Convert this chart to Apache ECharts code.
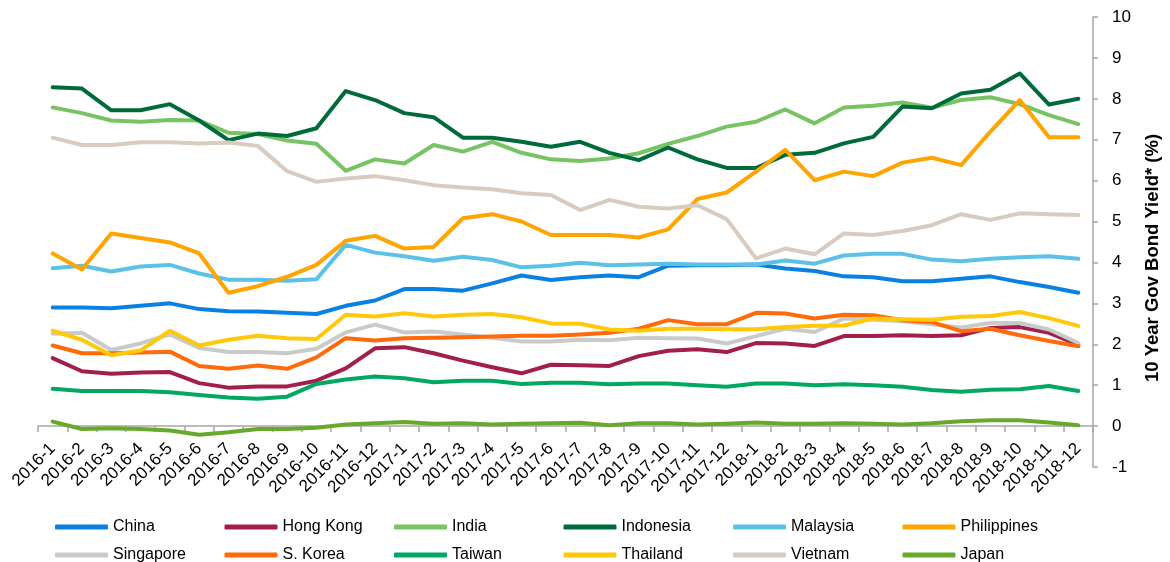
<!DOCTYPE html>
<html>
<head>
<meta charset="utf-8">
<title>10 Year Government Bond Yields, Asia</title>
<script src="https://cdn.jsdelivr.net/npm/echarts@6/dist/echarts.min.js"></script>
<style>
  html, body { margin: 0; padding: 0; background: #ffffff; }
  #chart { width: 1170px; height: 562px; }
</style>
</head>
<body>
<div id="chart"></div>
<script>
// Monthly categories, Jan 2016 – Dec 2018
const months = [
  '2016-1','2016-2','2016-3','2016-4','2016-5','2016-6','2016-7','2016-8','2016-9','2016-10','2016-11','2016-12',
  '2017-1','2017-2','2017-3','2017-4','2017-5','2017-6','2017-7','2017-8','2017-9','2017-10','2017-11','2017-12',
  '2018-1','2018-2','2018-3','2018-4','2018-5','2018-6','2018-7','2018-8','2018-9','2018-10','2018-11','2018-12'
];

// 10-year government bond yields (%)
const china = [2.90,2.90,2.88,2.94,3.00,2.86,2.81,2.80,2.77,2.74,2.94,3.07,3.35,3.35,3.31,3.49,3.68,3.57,3.64,3.68,3.64,3.92,3.93,3.93,3.95,3.85,3.79,3.66,3.64,3.54,3.54,3.60,3.66,3.52,3.40,3.26];
const hongKong = [1.66,1.34,1.28,1.31,1.32,1.05,0.94,0.97,0.97,1.11,1.41,1.90,1.93,1.78,1.60,1.44,1.29,1.50,1.49,1.47,1.71,1.84,1.88,1.81,2.03,2.02,1.96,2.20,2.20,2.22,2.20,2.22,2.40,2.42,2.28,1.99];
const india = [7.79,7.65,7.47,7.44,7.48,7.47,7.17,7.14,6.98,6.90,6.24,6.52,6.42,6.87,6.71,6.95,6.68,6.52,6.48,6.54,6.67,6.90,7.09,7.32,7.44,7.74,7.40,7.79,7.83,7.91,7.78,7.97,8.04,7.87,7.60,7.38];
const indonesia = [8.28,8.25,7.72,7.72,7.87,7.47,6.99,7.15,7.09,7.28,8.19,7.97,7.65,7.55,7.05,7.05,6.95,6.83,6.95,6.68,6.50,6.81,6.52,6.31,6.31,6.63,6.68,6.91,7.07,7.81,7.77,8.13,8.22,8.62,7.86,8.00];
const malaysia = [3.86,3.92,3.78,3.90,3.94,3.73,3.58,3.58,3.55,3.59,4.43,4.24,4.15,4.04,4.14,4.06,3.88,3.92,3.99,3.93,3.95,3.97,3.95,3.95,3.95,4.05,3.97,4.17,4.21,4.21,4.07,4.03,4.09,4.13,4.15,4.09];
const philippines = [4.22,3.83,4.71,4.60,4.49,4.22,3.26,3.42,3.65,3.94,4.53,4.65,4.34,4.38,5.08,5.18,5.00,4.67,4.67,4.67,4.61,4.81,5.55,5.71,6.22,6.75,6.01,6.22,6.11,6.44,6.56,6.38,7.20,7.97,7.06,7.06];
const singapore = [2.26,2.28,1.86,2.02,2.24,1.91,1.81,1.81,1.78,1.89,2.29,2.48,2.29,2.31,2.24,2.16,2.07,2.07,2.11,2.10,2.16,2.15,2.14,2.02,2.20,2.38,2.30,2.63,2.60,2.56,2.49,2.41,2.52,2.52,2.36,2.03];
const sKorea = [1.97,1.78,1.78,1.80,1.82,1.47,1.40,1.48,1.40,1.68,2.15,2.09,2.15,2.16,2.17,2.19,2.21,2.21,2.24,2.28,2.38,2.59,2.49,2.49,2.77,2.75,2.63,2.72,2.71,2.59,2.54,2.32,2.38,2.22,2.08,1.95];
const taiwan = [0.91,0.86,0.86,0.86,0.83,0.76,0.70,0.67,0.72,1.03,1.14,1.21,1.17,1.07,1.11,1.11,1.03,1.06,1.06,1.02,1.04,1.04,1.00,0.96,1.04,1.04,1.00,1.02,1.00,0.96,0.88,0.84,0.89,0.90,0.98,0.86];
const thailand = [2.33,2.11,1.73,1.85,2.33,1.97,2.11,2.21,2.15,2.13,2.72,2.68,2.76,2.68,2.72,2.74,2.66,2.51,2.50,2.36,2.33,2.38,2.38,2.37,2.37,2.42,2.45,2.46,2.63,2.61,2.60,2.67,2.69,2.79,2.64,2.45];
const vietnam = [7.05,6.87,6.87,6.94,6.94,6.91,6.93,6.85,6.23,5.97,6.05,6.11,6.01,5.89,5.83,5.79,5.69,5.65,5.28,5.53,5.36,5.32,5.40,5.06,4.10,4.34,4.20,4.71,4.67,4.77,4.91,5.18,5.04,5.20,5.18,5.16];
const japan = [0.11,-0.07,-0.05,-0.07,-0.11,-0.21,-0.15,-0.07,-0.07,-0.04,0.04,0.07,0.10,0.06,0.07,0.04,0.06,0.07,0.08,0.02,0.07,0.07,0.04,0.06,0.09,0.06,0.06,0.07,0.06,0.04,0.07,0.12,0.14,0.14,0.09,0.02];

// Series names in legend order
const seriesNames = ['China','Hong Kong','India','Indonesia','Malaysia','Philippines','Singapore','S. Korea','Taiwan','Thailand','Vietnam','Japan'];
const seriesValues = [china, hongKong, india, indonesia, malaysia, philippines, singapore, sKorea, taiwan, thailand, vietnam, japan];
const seriesColors = ['#0a80e2','#a11f4a','#78c364','#006b3a','#5bc1e6','#ffa400','#c9cbcb','#ff6a0a','#00a862','#ffc90a','#d8cbc0','#66a92b'];

// Y-axis scale (%)
const yMin = -1, yMax = 10, yStep = 1;

// Vertical divider at Nov 2017, spanning this value range
const dividerMonth = '2017-11';
const dividerSpan = [10.15, 0.15];

const FONT = '"Liberation Sans", Arial, Helvetica, sans-serif';

// Plot box
const GRID = { left: 38, right: 72, top: 17, bottom: 95 };
// Month labels sit just under the zero line, which is one y-unit above the plot bottom
const plotHeight = 562 - GRID.top - GRID.bottom;
const zeroLift = plotHeight * (0 - yMin) / (yMax - yMin);

const chart = echarts.init(document.getElementById('chart'), null, { renderer: 'canvas' });

const lineSeries = seriesNames.map((name, i) => ({
  name,
  type: 'line',
  data: seriesValues[i],
  showSymbol: false,
  symbol: 'none',
  color: seriesColors[i],
  lineStyle: { width: 4, color: seriesColors[i], cap: 'round', join: 'round' },
  emphasis: { disabled: true },
  z: 2 + i * 0.01
}));

lineSeries.push({
  name: 'divider',
  type: 'line',
  data: [],
  z: 5,
  markLine: {
    silent: true,
    symbol: 'none',
    label: { show: false },
    lineStyle: { color: '#858585', width: 3, type: [30, 15], dashOffset: 16 },
    data: [[
      { coord: [dividerMonth, dividerSpan[0]] },
      { coord: [dividerMonth, dividerSpan[1]] }
    ]]
  }
});

chart.setOption({
  animation: false,
  backgroundColor: '#ffffff',
  textStyle: { fontFamily: FONT },
  grid: Object.assign({ containLabel: false }, GRID),
  legend: {
    data: seriesNames,
    left: 50,
    top: 513,
    width: 1025,
    itemWidth: 53,
    itemHeight: 5,
    itemGap: 10,
    icon: 'roundRect',
    selectedMode: false,
    textStyle: { fontFamily: FONT, fontSize: 16, color: '#000', width: 101.5, lineHeight: 18 }
  },
  xAxis: [
    {
      // axis line and ticks along y = 0
      type: 'category',
      data: months,
      boundaryGap: true,
      axisLine: { onZero: true, lineStyle: { color: '#a6a6a6', width: 1.5 } },
      axisTick: { show: true, interval: 0, length: 6, lineStyle: { color: '#a6a6a6', width: 1.5 } },
      axisLabel: { show: false },
      splitLine: { show: false }
    },
    {
      // month labels, raised to the zero line
      type: 'category',
      data: months,
      boundaryGap: true,
      position: 'bottom',
      offset: -zeroLift,
      axisLine: { show: false, onZero: false },
      axisTick: { show: false },
      axisLabel: { interval: 0, rotate: 45, fontSize: 17, color: '#000', fontFamily: FONT, margin: 20 },
      splitLine: { show: false }
    }
  ],
  yAxis: {
    type: 'value',
    position: 'right',
    min: yMin,
    max: yMax,
    interval: yStep,
    axisLine: { show: true, lineStyle: { color: '#a6a6a6', width: 1.5 } },
    axisTick: { show: true, inside: false, length: 5, lineStyle: { color: '#a6a6a6', width: 1.5 } },
    axisLabel: { fontSize: 17, color: '#000', fontFamily: FONT, margin: 19 },
    splitLine: { show: false },
    name: '10 Year Gov Bond Yield* (%)',
    nameLocation: 'middle',
    nameRotate: 90,
    nameGap: 50,
    nameTextStyle: { fontSize: 18.5, fontWeight: 'bold', color: '#000', fontFamily: FONT, padding: [0, 32, 0, 0] }
  },
  series: lineSeries
});
</script>
</body>
</html>
